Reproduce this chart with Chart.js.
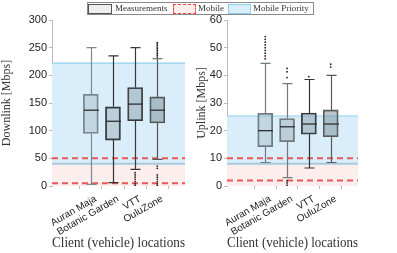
<!DOCTYPE html>
<html>
<head>
<meta charset="utf-8">
<script src="https://cdn.jsdelivr.net/npm/chart.js@4"></script>
<style>
    body { margin: 0; background: #fff; }
    #wrap { position: relative; width: 397px; height: 253px; overflow: hidden; }
    .panel { position: absolute; top: 0; height: 253px; }
    #legend {
        position: absolute; left: 87px; top: 2px; width: 225px; height: 11px;
        border: 1px solid #8a8a8a; font: 9px "Liberation Serif", serif; color: #333;
    }
    #legend span { position: absolute; top: 0; line-height: 11px; white-space: nowrap; }
    #legend .sw { top: 1px; height: 8px; }
</style>
</head>
<body>
<div id="wrap">
    <div class="panel" style="left:0;width:195px"><canvas id="dlChart"></canvas></div>
    <div class="panel" style="left:195px;width:202px"><canvas id="ulChart"></canvas></div>
    <div id="legend">
        <span class="sw" style="left:0;width:22px;border:1px solid #555;background:#eeeeee"></span>
        <span style="left:27px">Measurements</span>
        <span class="sw" style="left:85px;width:21px;border:1.5px dashed #ee4444;background:#fdeeee"></span>
        <span style="left:110px">Mobile</span>
        <span class="sw" style="left:140px;width:21px;border:1px solid #8ecfee;background:#d8eefa"></span>
        <span style="left:165px">Mobile Priority</span>
    </div>
</div>
<script>
// categories and their positions on the x axis
const locations = ['Auran Maja', 'Botanic Garden', 'VTT', 'OuluZone'];
const positions = [1, 2, 3, 4];

// Downlink box statistics [Mbps]
const dlLow = [3, 6, 30, 48];
const dlQ1 = [95, 83, 118, 114];
const dlMedian = [137, 117, 148, 137];
const dlQ3 = [166, 143, 178, 161];
const dlHigh = [250, 235, 250, 230];
const dlOutliers = [
    [],
    [],
    [1, 4, 8, 12, 16, 20, 24],
    [1, 4, 8, 12, 16, 20, 32, 36, 233, 236, 239, 242, 245, 248, 251, 254, 257, 259]
];
const dlTicks = [0, 50, 100, 150, 200, 250, 300];
const dlMobile = [5, 50];       // red dashed limits
const dlMobileBand = [0, 40];   // pink area
const dlPriority = [40, 222];   // blue area

// Uplink box statistics [Mbps]
const ulLow = [8.5, 3, 6.5, 8.5];
const ulQ1 = [14.2, 16, 18.7, 17.8];
const ulMedian = [20, 21.4, 22.4, 22.4];
const ulQ3 = [26.3, 24.4, 26.4, 27.5];
const ulHigh = [44.3, 37, 38.5, 40];
const ulOutliers = [
    [46, 47, 48, 49, 50, 51, 52, 53, 54],
    [0.3, 1.1, 1.9, 39.2, 41.3, 42.5],
    [39.5],
    [43, 44]
];
const ulTicks = [0, 10, 20, 30, 40, 50, 60];
const ulMobile = [2, 10];
const ulMobileBand = [0, 8];
const ulPriority = [8, 25.3];

// box look, one per location
const boxFill = ['rgba(110,130,140,0.22)', 'rgba(110,130,140,0.28)', 'rgba(110,130,140,0.36)', 'rgba(110,130,140,0.46)'];
const dlEdge = ['#7d8a92', '#333333', '#3a3a3a', '#555555'];
const ulEdge = ['#6f7b82', '#777777', '#333333', '#5a5a5a'];

function makePanel(id, p) {
    const ctx = document.getElementById(id).getContext('2d');

    const overlay = {
        id: 'overlay_' + id,
        beforeDatasetsDraw(chart) {
            const { ctx, chartArea: a, scales: { x, y } } = chart;
            ctx.save();
            ctx.beginPath();
            ctx.rect(a.left, a.top, a.right - a.left, a.bottom - a.top);
            ctx.clip();
            // mobile area (pink)
            let y0 = y.getPixelForValue(p.mobileBand[0]);
            let y1 = y.getPixelForValue(p.mobileBand[1]);
            ctx.fillStyle = '#fdeeee';
            ctx.fillRect(a.left, y1, a.right - a.left, y0 - y1);
            // mobile priority area (blue)
            y0 = y.getPixelForValue(p.priority[0]);
            y1 = y.getPixelForValue(p.priority[1]);
            ctx.fillStyle = '#d9eefa';
            ctx.fillRect(a.left, y1, a.right - a.left, y0 - y1);
            ctx.strokeStyle = '#8fd0ef';
            ctx.lineWidth = 1.2;
            ctx.beginPath();
            ctx.moveTo(a.left, y1); ctx.lineTo(a.right, y1);
            ctx.stroke();
            ctx.strokeStyle = '#a9c9de';
            ctx.lineWidth = 2;
            ctx.beginPath();
            ctx.moveTo(a.left, y0); ctx.lineTo(a.right, y0);
            ctx.stroke();
            // mobile limits (red dashed)
            ctx.strokeStyle = '#ec5757';
            ctx.lineWidth = 2;
            ctx.setLineDash([6, 4]);
            p.mobile.forEach(v => {
                const yy = y.getPixelForValue(v);
                ctx.beginPath();
                ctx.moveTo(a.left, yy); ctx.lineTo(a.right, yy);
                ctx.stroke();
            });
            ctx.restore();
        },
        afterDatasetsDraw(chart) {
            const { ctx, scales: { x, y } } = chart;
            ctx.save();
            positions.forEach((pos, i) => {
                const cx = Math.round(x.getPixelForValue(pos)) + 0.5;
                const yLow = y.getPixelForValue(p.low[i]);
                const yQ1 = y.getPixelForValue(p.q1[i]);
                const yQ3 = y.getPixelForValue(p.q3[i]);
                const yHigh = y.getPixelForValue(p.high[i]);
                const yMed = y.getPixelForValue(p.median[i]);
                ctx.strokeStyle = p.edge[i];
                ctx.lineWidth = 1.2;
                ctx.beginPath();
                // whiskers
                ctx.moveTo(cx, yQ1); ctx.lineTo(cx, yLow);
                ctx.moveTo(cx, yQ3); ctx.lineTo(cx, yHigh);
                // caps
                ctx.moveTo(cx - 5, yLow); ctx.lineTo(cx + 5, yLow);
                ctx.moveTo(cx - 5, yHigh); ctx.lineTo(cx + 5, yHigh);
                ctx.stroke();
                // median
                ctx.strokeStyle = '#2f2f2f';
                ctx.lineWidth = 1.3;
                ctx.beginPath();
                ctx.moveTo(cx - 7.5, yMed); ctx.lineTo(cx + 7.5, yMed);
                ctx.stroke();
            });
            ctx.restore();
        }
    };

    const outlierPoints = [];
    p.outliers.forEach((list, i) => list.forEach(v => outlierPoints.push({ x: positions[i], y: v })));

    new Chart(ctx, {
        type: 'bar',
        data: {
            datasets: [{
                label: 'Measurements',
                data: positions.map((pos, i) => ({ x: pos, y: [p.q1[i], p.q3[i]] })),
                backgroundColor: boxFill,
                borderColor: p.edge,
                borderWidth: 1.2,
                borderSkipped: false,
                barThickness: 15
            }, {
                type: 'scatter',
                label: 'Outliers',
                data: outlierPoints,
                pointRadius: 0.9,
                pointBackgroundColor: '#222',
                pointBorderWidth: 0
            }]
        },
        options: {
            responsive: true,
            maintainAspectRatio: false,
            animation: false,
            layout: { padding: { top: 20, right: p.rightPad, left: 0, bottom: 0 } },
            plugins: {
                legend: { display: false },
                tooltip: { enabled: false }
            },
            scales: {
                x: {
                    type: 'linear',
                    min: 0,
                    max: 4.5,
                    afterBuildTicks: s => { s.ticks = positions.map(v => ({ value: v })); },
                    afterFit: s => { s.height = 67; },
                    grid: { display: true, drawOnChartArea: false, tickLength: 3, color: '#bbbbbb' },
                    border: { display: false },
                    ticks: {
                        minRotation: 30,
                        maxRotation: 30,
                        padding: 4,
                        labelOffset: 5,
                        color: '#222',
                        font: { family: 'Liberation Sans', size: 10 },
                        callback: (v, idx) => locations[idx]
                    },
                    title: {
                        display: true,
                        text: 'Client (vehicle) locations',
                        color: '#333',
                        font: { family: 'Liberation Serif', size: 14 },
                        padding: { top: 0, bottom: 1 }
                    }
                },
                y: {
                    min: 0,
                    max: p.ticks[p.ticks.length - 1],
                    afterBuildTicks: s => { s.ticks = p.ticks.map(v => ({ value: v })); },
                    afterFit: s => { s.width = p.yWidth; },
                    grid: { display: true, drawOnChartArea: false, tickLength: 3, color: '#bbbbbb' },
                    border: { display: true, color: '#bbbbbb' },
                    ticks: {
                        padding: 2,
                        color: '#222',
                        font: { family: 'Liberation Sans', size: 11 }
                    },
                    title: {
                        display: true,
                        text: p.title,
                        color: '#333',
                        font: { family: 'Liberation Serif', size: 12 },
                        padding: { top: 0, bottom: 0 }
                    }
                }
            }
        },
        plugins: [overlay]
    });
}

makePanel('dlChart', {
    low: dlLow, q1: dlQ1, median: dlMedian, q3: dlQ3, high: dlHigh, outliers: dlOutliers,
    ticks: dlTicks, mobile: dlMobile, mobileBand: dlMobileBand, priority: dlPriority,
    edge: dlEdge, title: 'Downlink [Mbps]', yWidth: 52, rightPad: 10
});

makePanel('ulChart', {
    low: ulLow, q1: ulQ1, median: ulMedian, q3: ulQ3, high: ulHigh, outliers: ulOutliers,
    ticks: ulTicks, mobile: ulMobile, mobileBand: ulMobileBand, priority: ulPriority,
    edge: ulEdge, title: 'Uplink [Mbps]', yWidth: 32, rightPad: 39
});
</script>
</body>
</html>
